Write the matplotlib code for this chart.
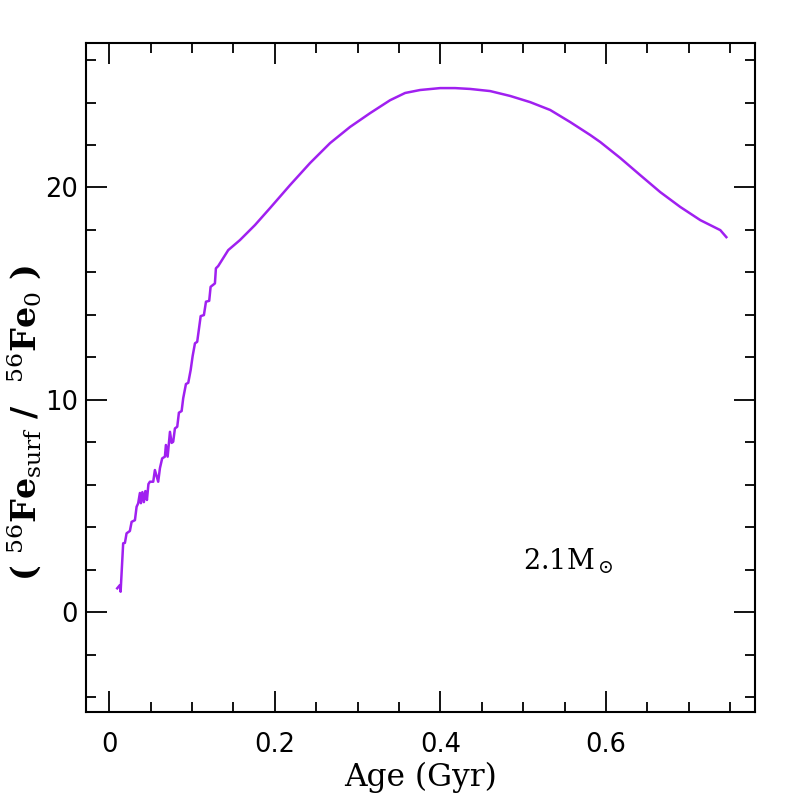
import matplotlib
matplotlib.use("Agg")
import matplotlib.pyplot as plt
from matplotlib.ticker import MultipleLocator

plt.rcParams['mathtext.fontset'] = 'dejavuserif'

age = [0.0097, 0.0129, 0.0138, 0.0169, 0.0190, 0.0210, 0.0250, 0.0271, 0.0311, 0.0331,
       0.0350, 0.0371, 0.0383, 0.0401, 0.0419, 0.0437, 0.0456, 0.0474, 0.0492, 0.0532,
       0.0552, 0.0592, 0.0613, 0.0640, 0.0673, 0.0685, 0.0706, 0.0734, 0.0754, 0.0773,
       0.0794, 0.0822, 0.0842, 0.0875, 0.0894, 0.0927, 0.0955, 0.0984, 0.1008, 0.1036,
       0.1063, 0.1105, 0.1144, 0.1169, 0.1208, 0.1225, 0.1277, 0.1289, 0.1317, 0.1438,
       0.1579, 0.1761, 0.1943, 0.2184, 0.2426, 0.2668, 0.2909, 0.3151, 0.3393, 0.3574,
       0.3755, 0.3997, 0.4178, 0.4360, 0.4601, 0.4843, 0.5084, 0.5326, 0.5568, 0.5810,
       0.5931, 0.6172, 0.6414, 0.6656, 0.6898, 0.7140, 0.7381, 0.7454]
fe_ratio = [1.12, 1.27, 0.96, 3.24, 3.26, 3.71, 3.82, 4.25, 4.33, 4.96,
            5.12, 5.61, 5.13, 5.65, 5.18, 5.70, 5.28, 6.03, 6.14, 6.14,
            6.69, 6.14, 6.78, 7.24, 7.32, 7.87, 7.32, 8.49, 7.97, 8.02,
            8.65, 8.73, 9.39, 9.47, 10.07, 10.74, 10.80, 11.40, 12.06, 12.66,
            12.73, 13.94, 13.99, 14.62, 14.66, 15.32, 15.48, 16.19, 16.30, 17.05,
            17.52, 18.23, 19.03, 20.11, 21.15, 22.09, 22.85, 23.50, 24.11, 24.45,
            24.59, 24.68, 24.68, 24.64, 24.54, 24.31, 24.02, 23.65, 23.08, 22.47,
            22.14, 21.39, 20.58, 19.78, 19.08, 18.46, 17.99, 17.66]

xticks = [0, 0.2, 0.4, 0.6]
xticklabels = ["0", "0.2", "0.4", "0.6"]
yticks = [0, 10, 20]
yticklabels = ["0", "10", "20"]

fig = plt.figure(figsize=(7.97, 7.97), dpi=100)
ax = fig.add_axes([86/797, 1-712.3/797, (755-86)/797, (712.3-43.3)/797])
ax.plot(age, fe_ratio, color='#A020F0', lw=1.8)
ax.set_xlim(-0.028, 0.780)
ax.set_ylim(-4.72, 26.79)

ax.set_xticks(xticks)
ax.set_xticklabels(xticklabels)
ax.set_yticks(yticks)
ax.set_yticklabels(yticklabels)
ax.xaxis.set_minor_locator(MultipleLocator(0.05))
ax.yaxis.set_minor_locator(MultipleLocator(2))
ax.tick_params(which='both', direction='in', top=True, right=True, width=1.3, colors='black')
ax.tick_params(which='major', length=15, labelsize=18.5, pad=14)
ax.tick_params(which='minor', length=7.5)
ax.tick_params(axis='y', which='major', pad=6)
for s in ax.spines.values():
    s.set_linewidth(1.5)

ax.set_xlabel('Age (Gyr)', fontsize=22.5, family='DejaVu Serif', labelpad=3)
fig.text(24/797, 1-423/797, r'( $^{56}$Fe$_{\rm surf}$ /  $^{56}$Fe$_0$ )', rotation=90,
         ha='center', va='center', fontsize=24, family='DejaVu Serif', fontweight='bold')
ax.text(0.5, 2.4, r'2.1M$_\odot$', fontsize=19.5, family='DejaVu Serif', va='center', ha='left')

fig.savefig('out.png', dpi=100)
